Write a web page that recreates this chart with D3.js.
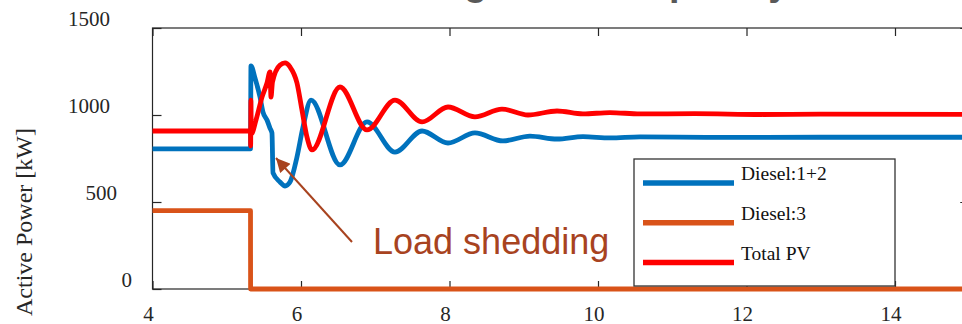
<!DOCTYPE html>
<html>
<head>
<meta charset="utf-8">
<script src="https://cdn.jsdelivr.net/npm/d3@7"></script>
<style>
  html, body { margin: 0; padding: 0; background: #fff; overflow: hidden; }
  svg { display: block; }
</style>
</head>
<body>
<svg id="chart" width="962" height="324"></svg>
<script>
// Generator active power after a load-shedding event (time in s, power in kW)
const seriesNames = ["Diesel:1+2", "Diesel:3", "Total PV"];
const seriesColors = ["#0072BD", "#D95319", "#FF0000"];

const timeDiesel12 = [4, 5.32, 5.326, 5.38, 5.448, 5.488, 5.542, 5.582, 5.609, 5.623, 5.717, 5.785, 5.852,
  5.946, 6.027, 6.135, 6.525, 6.889, 7.266, 7.63, 7.98, 8.343, 8.72, 9.084, 9.448, 9.798, 10.162,
  10.566, 11.5, 13, 15];
const powerDiesel12 = [805, 805, 1282, 1213, 1103, 1017, 971, 925, 897, 667, 615, 592, 615,
  759, 931, 1086, 713, 960, 787, 908, 839, 897, 851, 879, 862, 876, 868,
  874, 871, 872, 872];

const timeDiesel3 = [4, 5.32, 5.321, 15];
const powerDiesel3 = [450, 450, 0, 0];

const timePV = [4, 5.32, 5.322, 5.325, 5.33, 5.394, 5.475, 5.542, 5.582, 5.596, 5.616, 5.717, 5.785,
  5.852, 5.946, 6.013, 6.08, 6.148, 6.525, 6.889, 7.266, 7.63, 7.98, 8.343, 8.707, 9.057, 9.448,
  9.798, 10.16, 10.566, 11.3, 12.2, 13, 15];
const powerPV = [908, 908, 822, 1086, 890, 971, 1103, 1184, 1247, 1103, 1190, 1287, 1299,
  1276, 1184, 1029, 874, 799, 1161, 914, 1086, 960, 1046, 989, 1034, 1000, 1023,
  1006, 1014, 1006, 1008, 1003, 1005, 1004];

const xTicks = [4, 6, 8, 10, 12, 14];
const yTicks = [0, 500, 1000, 1500];

// annotation: arrow from the label towards the post-shedding dip
const annotationText = "Load shedding";
const arrowTip = [5.663, 753];
const arrowTail = [6.687, 270];
const annotationAt = [6.97, 201];

const titleText = "Voltage and Frequency";
const yTitle = "Active Power [kW]";

// ---- layout ----
const svg = d3.select("#chart");
const plotLeft = 152.5, plotRight = 969.25, plotTop = 28, plotBottom = 289;
const x = d3.scaleLinear().domain([4, 15]).range([plotLeft, plotRight]);
const y = d3.scaleLinear().domain([0, 1500]).range([plotBottom, plotTop]);
const axisColor = "#262626";
const serif = "'Liberation Serif', 'Times New Roman', serif";
const sans = "'Liberation Sans', Arial, sans-serif";

// title (sits above the visible area)
svg.append("text")
  .attr("x", 374).attr("y", -5)
  .attr("font-family", sans).attr("font-weight", "bold").attr("font-size", 38)
  .attr("fill", "#595959")
  .text(titleText);

// plot box and inward ticks on all sides
const g = svg.append("g");
g.append("rect")
  .attr("x", plotLeft).attr("y", plotTop)
  .attr("width", plotRight - plotLeft).attr("height", plotBottom - plotTop)
  .attr("fill", "none").attr("stroke", axisColor).attr("stroke-width", 1.2);

const bottomAxis = d3.axisBottom(x).tickValues(xTicks).tickSizeInner(-8).tickSizeOuter(0).tickFormat("");
const topAxis = d3.axisTop(x).tickValues(xTicks).tickSizeInner(-8).tickSizeOuter(0).tickFormat("");
const leftAxis = d3.axisLeft(y).tickValues(yTicks).tickSizeInner(-9).tickSizeOuter(0).tickFormat("");
const rightAxis = d3.axisRight(y).tickValues(yTicks).tickSizeInner(-9).tickSizeOuter(0).tickFormat("");

function styleAxis(sel) {
  sel.select(".domain").remove();
  sel.selectAll(".tick line").attr("stroke", axisColor).attr("stroke-width", 1.2);
}
g.append("g").attr("transform", `translate(0,${plotBottom})`).call(bottomAxis).call(styleAxis);
g.append("g").attr("transform", `translate(0,${plotTop})`).call(topAxis).call(styleAxis);
g.append("g").attr("transform", `translate(${plotLeft},0)`).call(leftAxis).call(styleAxis);
g.append("g").attr("transform", `translate(${plotRight},0)`).call(rightAxis).call(styleAxis);

// tick labels
svg.append("g").selectAll("text").data(xTicks).join("text")
  .attr("x", d => x(d) - 4).attr("y", plotBottom + 32)
  .attr("text-anchor", "middle")
  .attr("font-family", serif).attr("font-size", 21).attr("fill", "#262626")
  .text(d => d);

const yLabelRight = v => (v === 0 ? 132 : v === 500 ? 117 : 110);
svg.append("g").selectAll("text").data(yTicks).join("text")
  .attr("x", d => yLabelRight(d)).attr("y", d => y(d) - 2)
  .attr("text-anchor", "end")
  .attr("font-family", serif).attr("font-size", 21).attr("fill", "#262626")
  .text(d => d);

svg.append("text")
  .attr("transform", "translate(32,222) rotate(-90)")
  .attr("text-anchor", "middle")
  .attr("font-family", serif).attr("font-size", 24).attr("fill", "#262626")
  .text(yTitle);

// series
const smooth = d3.line().x(d => x(d[0])).y(d => y(d[1])).curve(d3.curveMonotoneX);
const straight = d3.line().x(d => x(d[0])).y(d => y(d[1]));

const series = [
  { pts: d3.zip(timeDiesel12, powerDiesel12), gen: smooth },
  { pts: d3.zip(timeDiesel3, powerDiesel3), gen: straight },
  { pts: d3.zip(timePV, powerPV), gen: smooth }
];
series.forEach((s, i) => {
  svg.append("path")
    .attr("d", s.gen(s.pts))
    .attr("fill", "none")
    .attr("stroke", seriesColors[i])
    .attr("stroke-width", 4.8)
    .attr("stroke-linejoin", "round")
    .attr("stroke-linecap", "butt");
});

// annotation arrow + text
const annColor = "#A8431F";
const defs = svg.append("defs");
defs.append("marker")
  .attr("id", "arrowhead")
  .attr("viewBox", "0 0 10 10")
  .attr("refX", 10).attr("refY", 5)
  .attr("markerWidth", 8).attr("markerHeight", 7)
  .attr("markerUnits", "strokeWidth")
  .attr("orient", "auto")
  .append("path").attr("d", "M0,0 L10,5 L0,10 Z").attr("fill", annColor);

svg.append("line")
  .attr("x1", x(arrowTail[0])).attr("y1", y(arrowTail[1]))
  .attr("x2", x(arrowTip[0])).attr("y2", y(arrowTip[1]))
  .attr("stroke", annColor).attr("stroke-width", 2)
  .attr("marker-end", "url(#arrowhead)");

svg.append("text")
  .attr("x", x(annotationAt[0])).attr("y", y(annotationAt[1]))
  .attr("font-family", sans).attr("font-size", 36).attr("fill", annColor)
  .text(annotationText);

// legend
const legend = svg.append("g").attr("transform", "translate(634,159)");
legend.append("rect")
  .attr("width", 261).attr("height", 127)
  .attr("fill", "#fff").attr("stroke", "#333").attr("stroke-width", 1.3);
seriesNames.forEach((name, i) => {
  const row = legend.append("g").attr("transform", `translate(0,${24 + i * 39.8})`);
  row.append("line")
    .attr("x1", 9).attr("x2", 100)
    .attr("stroke", seriesColors[i]).attr("stroke-width", 5.5);
  row.append("text")
    .attr("x", 107).attr("y", -3)
    .attr("font-family", serif).attr("font-size", 19.5).attr("fill", "#111")
    .text(name);
});
</script>
</body>
</html>
